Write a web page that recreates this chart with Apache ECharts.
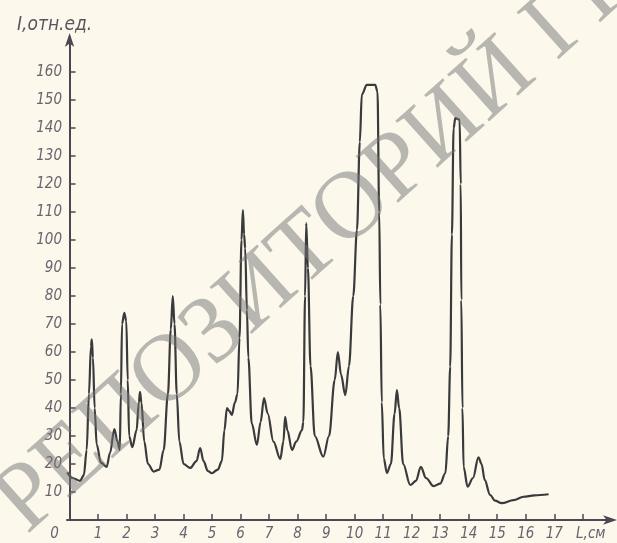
<!DOCTYPE html>
<html><head><meta charset="utf-8">
<script src="https://cdn.jsdelivr.net/npm/echarts@6/dist/echarts.min.js"></script>
<style>html,body{margin:0;padding:0;background:#fcf9ec;}#c{width:617px;height:543px;}</style>
</head><body><div id="c"></div>
<script>
// Distance along the chromatogram, cm
const positions = [-0.08,0.1,0.37,0.5,0.6,0.68,0.75,0.78,0.82,0.88,0.95,1.1,1.3,1.42,1.57,1.68,1.76,1.8,1.84,1.92,1.99,2.04,2.09,2.2,2.35,2.43,2.47,2.52,2.62,2.75,2.95,3.15,3.3,3.45,3.55,3.62,3.68,3.76,3.85,4.0,4.23,4.45,4.58,4.7,4.85,4.99,5.2,5.34,5.43,5.52,5.6,5.69,5.8,5.89,5.96,6.03,6.08,6.12,6.16,6.22,6.27,6.39,6.57,6.7,6.82,6.95,7.15,7.39,7.5,7.56,7.64,7.8,7.95,8.15,8.2,8.26,8.3,8.36,8.45,8.6,8.9,9.1,9.3,9.41,9.52,9.67,9.8,9.95,10.08,10.18,10.25,10.43,10.72,10.8,10.86,10.9,10.95,11.02,11.13,11.27,11.4,11.48,11.56,11.7,11.95,12.15,12.32,12.5,12.77,13.0,13.18,13.28,13.35,13.41,13.47,13.53,13.68,13.72,13.74,13.78,13.82,13.96,14.15,14.34,14.45,14.56,14.75,14.92,15.16,15.57,15.92,16.3,16.8];
// Relative intensity
const intensity = [17,15,14,16,25,45,62,64.5,58,40,27,20.5,19,24,32.5,28,25,45,70,74,71,50,30,26,32,42,45.8,42,28,20,17.3,18,25,45,68,80,70,45,28,20,18.6,21,25.7,21,17.5,16.7,18,21,32,40,39,37.5,42,45,65,100,110.7,102,97,75,58,34.5,26.8,35,43.5,38,28,21.8,28,36.8,32,25,28,32,35,80,106,90,55,30,22.6,30,50,60,52,44.6,55,80,103.6,135,152,155.4,155.4,153,110,77,42,22,16.8,20,38,46.4,40,20,12.5,14,19,15,12.1,13,16.7,30,54.8,102,140,143.5,143,120,78.6,40,19,11.9,15,22.4,20,14.3,9,6.9,6,7.1,8.3,8.8,9.2];
const xTickValues = [0,1,2,3,4,5,6,7,8,9,10,11,12,13,14,15,16,17,18];
const yTickValues = [10,20,30,40,50,60,70,80,90,100,110,120,130,140,150,160];
const xEndLabel = 'L,см';
const yTitle = 'I,отн.ед.';
const watermark = 'РЕПОЗИТОРИЙ ГГУ';

const chart = echarts.init(document.getElementById('c'), null, {renderer:'canvas'});
const FONT = "'DejaVu Sans Condensed', 'Liberation Sans Narrow', Roboto, sans-serif";
const labFont = {fontFamily:FONT, fontStyle:'italic', fontSize:15, color:'#6d6270'};
const axisCol = '#4f4653';
chart.setOption({
  backgroundColor:'#fcf9ec',
  animation:false,
  title:{text:yTitle, left:12, top:11, textStyle:{fontFamily:FONT, fontStyle:'italic', fontWeight:'normal', fontSize:19, color:'#5c5260'}},
  grid:{left:67, right:4, top:37, bottom:23, containLabel:false},
  xAxis:{type:'value', min:-0.09, max:19.06,
    axisLine:{lineStyle:{color:axisCol, width:2}, symbol:['none','arrow'], symbolSize:[7,14], symbolOffset:[0,4]},
    axisTick:{inside:true, length:6, customValues:xTickValues, lineStyle:{color:axisCol, width:1.5}},
    axisLabel:Object.assign({}, labFont, {margin:7, customValues:xTickValues,
      formatter:v=> v===0 ? '{z|0}' : (v===18 ? '{l|'+xEndLabel+'}' : String(v)),
      rich:{z:Object.assign({}, labFont, {padding:[0,30,0,0]}), l:Object.assign({}, labFont, {padding:[0,0,0,16]})}}),
    splitLine:{show:false}},
  yAxis:{type:'value', min:0, max:172.5,
    axisLine:{show:true, lineStyle:{color:axisCol, width:2}, symbol:['none','arrow'], symbolSize:[7,14], symbolOffset:[0,4]},
    axisTick:{show:true, inside:true, length:6, customValues:yTickValues, lineStyle:{color:axisCol, width:1.5}},
    axisLabel:Object.assign({}, labFont, {margin:5, customValues:yTickValues}),
    splitLine:{show:false}},
  series:[{type:'line', data:positions.map((x,i)=>[x,intensity[i]]), showSymbol:false, smooth:0.35, smoothMonotone:'x',
    lineStyle:{color:'#3a3a3c', width:2.2}}],
  graphic:[{type:'text', x:42, y:552, rotation:0.73, z:100, silent:true,
    style:{text:watermark, fontFamily:'Liberation Serif', fontSize:96, fill:'rgba(115,115,115,0.5)', textAlign:'left', textVerticalAlign:'bottom'}}]
});
</script></body></html>
